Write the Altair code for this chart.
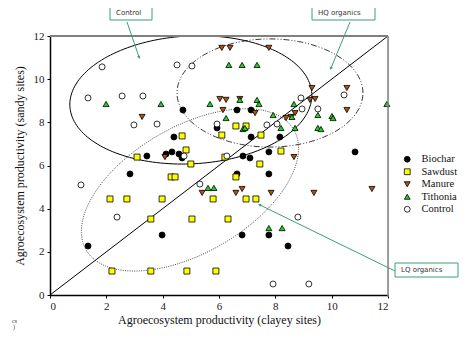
import altair as alt
import pandas as pd
import numpy as np

# ---------------- data ----------------
biochar_x = [4.72, 6.64, 7.14, 5.93, 4.40, 7.14, 8.16, 3.44, 4.12, 4.33, 4.58, 4.69, 7.77, 10.83,
             6.85, 7.10, 2.84, 6.64, 7.77, 1.35, 3.98, 6.82, 7.77, 8.45]
biochar_y = [8.57, 8.57, 8.57, 7.74, 7.32, 7.32, 7.32, 6.44, 6.53, 6.63, 6.53, 6.35, 6.63, 6.63,
             6.44, 6.35, 5.61, 5.61, 5.61, 2.27, 2.78, 2.78, 2.78, 2.27]

sawdust_x = [3.09, 4.69, 4.83, 5.00, 6.10, 6.60, 6.96, 7.49, 6.21, 7.45, 8.20, 4.30, 4.44, 6.60,
             2.13, 2.73, 3.98, 5.79, 6.96, 7.31, 3.58, 5.04, 6.32, 2.20, 3.58, 4.86, 5.89]
sawdust_y = [6.39, 7.37, 6.72, 6.07, 7.41, 7.83, 7.83, 7.41, 6.39, 6.07, 6.67, 5.47, 5.47, 5.47,
             4.45, 4.45, 4.45, 4.45, 4.45, 4.45, 3.52, 3.52, 3.52, 1.11, 1.11, 1.11, 1.11]

manure_x = [3.27, 6.10, 6.39, 7.77, 6.03, 6.25, 6.14, 6.74, 7.28, 9.30, 10.54, 9.23, 9.41, 10.54,
            8.38, 8.56, 8.70, 8.66, 4.08, 5.40, 6.60, 6.82, 7.85, 9.37, 11.43]
manure_y = [8.25, 11.45, 11.45, 11.45, 9.08, 9.04, 8.57, 9.08, 8.43, 9.59, 9.59, 9.04, 9.08, 8.57,
            8.20, 8.25, 8.43, 6.39, 6.39, 4.73, 4.73, 4.91, 4.73, 4.73, 4.91]

tithonia_x = [1.99, 3.94, 5.68, 6.35, 6.82, 7.35, 6.25, 6.74, 7.35, 7.42, 7.92, 8.59, 8.66, 9.51,
              10.01, 10.05, 6.85, 6.92, 8.20, 8.70, 9.51, 9.62, 11.96, 5.61, 5.82, 7.77, 8.24]
tithonia_y = [8.85, 8.85, 8.85, 10.66, 10.66, 10.66, 8.20, 9.04, 9.04, 8.85, 8.34, 8.25, 8.85, 8.34,
              8.29, 8.20, 7.69, 7.74, 7.74, 7.74, 7.74, 7.69, 8.85, 4.96, 4.96, 3.10, 3.10]

control_x = [1.85, 1.35, 2.56, 3.30, 2.98, 3.80, 4.51, 5.04, 4.76, 5.93, 6.28, 7.70, 8.06, 8.91,
             8.95, 9.51, 10.44, 1.10, 5.32, 2.38, 8.80, 7.92, 9.19]
control_y = [10.57, 9.13, 9.22, 9.22, 7.88, 7.92, 10.66, 10.61, 6.44, 7.92, 6.44, 7.88, 7.92, 9.13,
             8.62, 8.62, 9.27, 5.10, 5.14, 3.61, 3.61, 0.51, 0.51]

groups = ["Biochar", "Sawdust", "Manure", "Tithonia", "Control"]
group_shapes = ["circle", "square", "triangle-down", "triangle-up", "circle"]
group_colors = ["#000000", "#FFFF00", "#B0520E", "#1ED21E", "#FFFFFF"]

x_ticks = [0, 2, 4, 6, 8, 10, 12]
y_ticks = [0, 2, 4, 6, 8, 10, 12]
one_to_one = [0, 12]

# ellipse outlines: centre (data units), semi-axes (x-units), tilt (deg)
ellipses = {
    "control": (5.00, 9.04, 4.30, 2.27, 3.0),
    "hq": (7.81, 9.36, 3.30, 1.92, 0.0),
    "lq": (4.97, 4.87, 4.26, 2.24, 30.0),
}

# ---------------- build tables ----------------
rows = []
for g, xs_, ys_ in zip(groups,
                       [biochar_x, sawdust_x, manure_x, tithonia_x, control_x],
                       [biochar_y, sawdust_y, manure_y, tithonia_y, control_y]):
    for a, b in zip(xs_, ys_):
        rows.append({"x": a, "y": b, "group": g})
df = pd.DataFrame(rows)

W, H = 338, 259
ASPECT = H / W


def ellipse_df(cx, cy, a, b, ang):
    t = np.linspace(0, 2 * np.pi, 181)
    th = np.deg2rad(ang)
    X = cx + a * np.cos(t) * np.cos(th) - b * np.sin(t) * np.sin(th)
    Y = cy * ASPECT + a * np.cos(t) * np.sin(th) + b * np.sin(t) * np.cos(th)
    return pd.DataFrame({"x": X, "y": Y / ASPECT, "o": np.arange(len(t))})


xsc = alt.Scale(domain=[0, 12], nice=False, zero=False)
ysc = alt.Scale(domain=[0, 12], nice=False, zero=False)
SERIF = "Liberation Serif"
GREEN = "#3C9E78"

axis_common = dict(grid=False, domainColor="black", domainWidth=1.5, tickColor="black",
                   tickSize=3, tickWidth=1, labelFont=SERIF, labelFontSize=11,
                   labelColor="#222222", titleFont=SERIF, titleFontSize=12,
                   titleFontWeight="normal", titleColor="#111111")

base_x = alt.X("x:Q", scale=xsc,
               axis=alt.Axis(values=x_ticks, labelPadding=2, titleY=24, titleBaseline="middle",
                             **axis_common),
               title="Agroecosystem productivity (clayey sites)")
base_y = alt.Y("y:Q", scale=ysc,
               axis=alt.Axis(values=y_ticks, labelPadding=3, titlePadding=7, **axis_common),
               title="Agroecosystem productivity (sandy sites)")

legend_common = dict(title=None, orient="none", legendX=352, legendY=118,
                     labelFont=SERIF, labelFontSize=10.5, labelColor="#111111",
                     symbolSize=34, symbolStrokeWidth=0.8,
                     rowPadding=1.5, labelOffset=9)

points = alt.Chart(df).mark_point(filled=True, size=36, strokeWidth=0.8,
                                  opacity=1).encode(
    x=base_x, y=base_y,
    shape=alt.Shape("group:N", scale=alt.Scale(domain=groups, range=group_shapes),
                    legend=alt.Legend(**legend_common)),
    fill=alt.Fill("group:N", scale=alt.Scale(domain=groups, range=group_colors),
                  legend=alt.Legend(**legend_common)),
    stroke=alt.Stroke("group:N", scale=alt.Scale(domain=groups, range=["#000000"] * 5),
                      legend=alt.Legend(**legend_common)),
)

diag = alt.Chart(pd.DataFrame({"x": one_to_one, "y": one_to_one})).mark_line(
    color="black", strokeWidth=1).encode(x=alt.X("x:Q", scale=xsc), y=alt.Y("y:Q", scale=ysc))

ell_control = alt.Chart(ellipse_df(*ellipses["control"])).mark_line(
    color="black", strokeWidth=1).encode(x=alt.X("x:Q", scale=xsc), y=alt.Y("y:Q", scale=ysc),
                                         order="o:Q")
ell_hq = alt.Chart(ellipse_df(*ellipses["hq"])).mark_line(
    color="black", strokeWidth=0.8, strokeDash=[6, 2, 1, 2, 1, 2]).encode(
    x=alt.X("x:Q", scale=xsc), y=alt.Y("y:Q", scale=ysc), order="o:Q")
ell_lq = alt.Chart(ellipse_df(*ellipses["lq"])).mark_line(
    color="#333333", strokeWidth=0.9, strokeDash=[1, 1.3]).encode(
    x=alt.X("x:Q", scale=xsc), y=alt.Y("y:Q", scale=ysc), order="o:Q")

one = pd.DataFrame({"a": [0]})

# gray frame (top and right)
frame_top = alt.Chart(one).mark_rule(color="#808080", strokeWidth=2).encode(
    x=alt.value(0), x2=alt.value(W), y=alt.value(0))
frame_right = alt.Chart(one).mark_rule(color="#808080", strokeWidth=1.5).encode(
    x=alt.value(W), y=alt.value(0), y2=alt.value(H + 2))


def box(x1, x2, y1, y2, label):
    r = alt.Chart(one).mark_rect(fill="white", stroke=GREEN, strokeWidth=1).encode(
        x=alt.value(x1), x2=alt.value(x2), y=alt.value(y1), y2=alt.value(y2))
    t = alt.Chart(one).mark_text(text=label, font="DejaVu Sans", fontSize=7, align="left",
                                 baseline="middle", color="#333333").encode(
        x=alt.value(x1 + 6), y=alt.value((y1 + y2) / 2))
    return r + t


def arrow(x1, y1, x2, y2, ang):
    ln = alt.Chart(one).mark_rule(color=GREEN, strokeWidth=1).encode(
        x=alt.value(x1), x2=alt.value(x2), y=alt.value(y1), y2=alt.value(y2))
    hd = alt.Chart(one).mark_point(shape="triangle", filled=True, color=GREEN, size=12,
                                   angle=ang, opacity=1).encode(x=alt.value(x2), y=alt.value(y2))
    return ln + hd


ann = (box(60, 102, -30, -16, "Control") + arrow(77, -14, 89, 21, 161) +
       box(262, 325, -30, -16, "HQ organics") + arrow(300, -14, 281, 32, 202) +
       box(345, 408, 227, 241, "LQ organics") + arrow(345, 235, 210, 169, 296))

stray = (alt.Chart(one).mark_text(text="cs", font=SERIF, fontSize=6, align="left",
                                  baseline="middle", color="#333333").encode(
    x=alt.value(-38), y=alt.value(285)) +
         alt.Chart(one).mark_text(text=")", font=SERIF, fontSize=6, align="left",
                                  baseline="middle", color="#333333").encode(
    x=alt.value(-37), y=alt.value(291)))

chart = alt.layer(ell_control, ell_hq, ell_lq, diag, points, frame_top, frame_right,
                  ann, stray).properties(
    width=W, height=H,
    padding={"left": 42, "top": 28, "right": 71, "bottom": 37},
    autosize=alt.AutoSizeParams(type="none"),
).configure_view(strokeWidth=0).configure(background="white")

chart.save("out.html", embed_options={"renderer": "svg", "actions": False})
